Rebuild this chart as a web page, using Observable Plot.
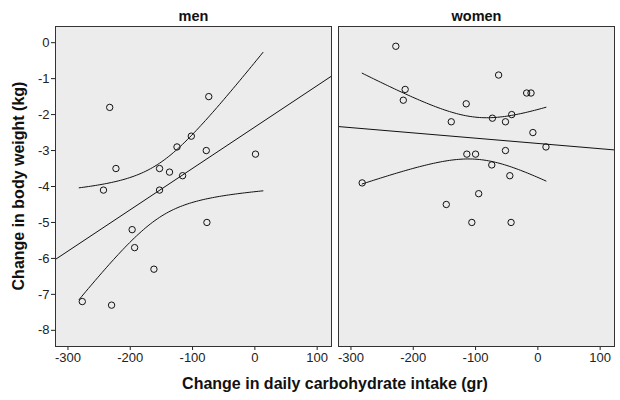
<!DOCTYPE html>
<html>
<head>
<meta charset="utf-8">
<script src="https://cdn.jsdelivr.net/npm/d3@7"></script>
<script src="https://cdn.jsdelivr.net/npm/@observablehq/plot@0.6"></script>
<style>
  html, body { margin: 0; padding: 0; background: #fff; }
  #chart { width: 620px; height: 400px; }
</style>
</head>
<body>
<div id="chart"></div>
<script>
// ---- data ----
const panels = ["men", "women"];

const menCarb   = [-233, -74, -102, -125, -78, 1, -223, -153, -137, -116, -243, -153, -197, -77, -193, -162, -277, -230];
const menWeight = [-1.8, -1.5, -2.6, -2.9, -3.0, -3.1, -3.5, -3.5, -3.6, -3.7, -4.1, -4.1, -5.2, -5.0, -5.7, -6.3, -7.2, -7.3];

const womenCarb   = [-228, -63, -18, -11, -213, -216, -115, -139, -73, -52, -42, -8, 13, -52, -114, -100, -74, -45, -282, -95, -147, -106, -43];
const womenWeight = [-0.1, -0.9, -1.4, -1.4, -1.3, -1.6, -1.7, -2.2, -2.1, -2.2, -2.0, -2.5, -2.9, -3.0, -3.1, -3.1, -3.4, -3.7, -3.9, -4.2, -4.5, -5.0, -5.0];

const xTicks = [-300, -200, -100, 0, 100];
const yTicks = [0, -1, -2, -3, -4, -5, -6, -7, -8];
const xDomain = [-320, 123];
const yDomain = [-8.45, 0.45];

const xTitle = "Change in daily carbohydrate intake (gr)";
const yTitle = "Change in body weight (kg)";

// ---- build tables ----
const series = { men: [menCarb, menWeight], women: [womenCarb, womenWeight] };
const points = [];
for (const p of panels) {
  const [xs, ys] = series[p];
  xs.forEach((x, i) => points.push({ panel: p, carb: x, weight: ys[i] }));
}

// least-squares fit and 95% confidence interval of the mean (statistics of the data)
function tCrit(df) {
  const z = 1.959964;
  return z + (z ** 3 + z) / (4 * df)
           + (5 * z ** 5 + 16 * z ** 3 + 3 * z) / (96 * df ** 2)
           + (3 * z ** 7 + 19 * z ** 5 + 17 * z ** 3 - 15 * z) / (384 * df ** 3);
}
function fit(xs, ys) {
  const n = xs.length, mx = d3.mean(xs), my = d3.mean(ys);
  let sxx = 0, sxy = 0;
  xs.forEach((x, i) => { sxx += (x - mx) ** 2; sxy += (x - mx) * (ys[i] - my); });
  const b = sxy / sxx, a = my - b * mx;
  let sse = 0;
  xs.forEach((x, i) => { sse += (ys[i] - (a + b * x)) ** 2; });
  const s = Math.sqrt(sse / (n - 2));
  return { a, b, mx, sxx, s, n, t: tCrit(n - 2) };
}

const allCarb = menCarb.concat(womenCarb);
const [cMin, cMax] = d3.extent(allCarb);
const fitLines = [], ciLines = [];
for (const p of panels) {
  const f = fit(...series[p]);
  for (const x of xDomain) fitLines.push({ panel: p, carb: x, weight: f.a + f.b * x });
  const steps = 80;
  for (let i = 0; i <= steps; i++) {
    const x = cMin + (cMax - cMin) * i / steps;
    const yh = f.a + f.b * x;
    const h = f.t * f.s * Math.sqrt(1 / f.n + (x - f.mx) ** 2 / f.sxx);
    ciLines.push({ panel: p, band: "upper", carb: x, weight: yh + h });
    ciLines.push({ panel: p, band: "lower", carb: x, weight: yh - h });
  }
}

const fmt = d => String(d);

const chart = Plot.plot({
  width: 620,
  height: 400,
  marginLeft: 55,
  marginRight: 6,
  marginTop: 26,
  marginBottom: 54,
  style: { fontFamily: "'Liberation Sans', Arial, sans-serif", fontSize: "13px", color: "#222", background: "#fff" },
  fx: { domain: panels, paddingInner: 0.025, paddingOuter: 0, axis: null, label: null },
  x: { domain: xDomain, ticks: xTicks, tickFormat: fmt, tickSize: 4, tickPadding: 2, label: null },
  y: { domain: yDomain, ticks: yTicks, tickFormat: fmt, tickSize: 4, tickPadding: 2, label: null },
  marks: [
    Plot.frame({ fill: "#ececec", stroke: "none" }),
    Plot.line(fitLines, { x: "carb", y: "weight", fx: "panel", stroke: "#111", strokeWidth: 1 }),
    Plot.line(ciLines, { x: "carb", y: "weight", z: "band", fx: "panel", stroke: "#111", strokeWidth: 1, curve: "linear" }),
    Plot.dot(points, { x: "carb", y: "weight", fx: "panel", r: 3.2, stroke: "#111", strokeWidth: 1, fill: "none" }),
    Plot.text(panels, { fx: d => d, text: d => d, frameAnchor: "top", lineAnchor: "middle", dy: -10, fontWeight: "bold", fontSize: 14.5, fill: "#111" }),
    Plot.frame({ stroke: "#333", strokeWidth: 1 })
  ]
});

document.getElementById("chart").appendChild(chart);

// axis titles
const svg = d3.select(chart);
svg.append("text")
  .attr("x", 335).attr("y", 389)
  .attr("text-anchor", "middle")
  .style("font-family", "'Liberation Sans', Arial, sans-serif")
  .style("font-weight", "bold").style("font-size", "16px").attr("fill", "#111")
  .text(xTitle);
svg.append("text")
  .attr("transform", "translate(24,186) rotate(-90)")
  .attr("text-anchor", "middle")
  .style("font-family", "'Liberation Sans', Arial, sans-serif")
  .style("font-weight", "bold").style("font-size", "16px").attr("fill", "#111")
  .text(yTitle);
</script>
</body>
</html>
